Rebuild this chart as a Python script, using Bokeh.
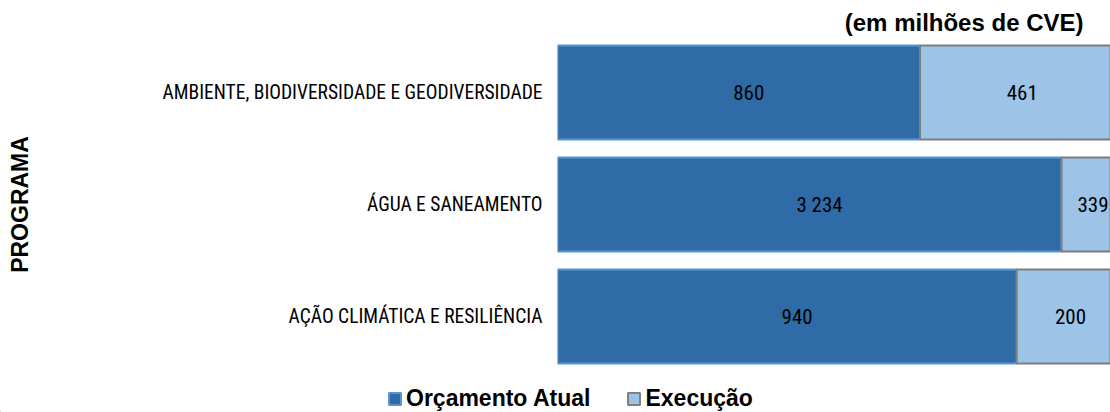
from bokeh.plotting import figure
from bokeh.models import ColumnDataSource, FactorRange, Range1d, Legend, LegendItem
from bokeh.layouts import column
from bokeh.core.properties import value
from bokeh.embed import file_html
from bokeh.resources import INLINE

# Data (top to bottom in the chart)
programas = ["AMBIENTE, BIODIVERSIDADE E GEODIVERSIDADE", "ÁGUA E SANEAMENTO", "AÇÃO CLIMÁTICA E RESILIÊNCIA"]
orcamento_atual = [860, 3234, 940]
execucao = [461, 339, 200]

series_names = ["Orçamento Atual", "Execução"]
title_text = "(em milhões de CVE)"
axis_title = "PROGRAMA"

DARK_FILL, DARK_LINE = "#2E6BA7", "#5A95D3"
LIGHT_FILL, LIGHT_LINE = "#9DC3E6", "#7F7F7F"

def fmt(v):
    return f"{v:,}".replace(",", " ")

totals = [a + b for a, b in zip(orcamento_atual, execucao)]
frac_orc = [a / t for a, t in zip(orcamento_atual, totals)]
frac_exe = [b / t for b, t in zip(execucao, totals)]

src = ColumnDataSource(dict(
    prog=programas,
    orc=frac_orc,
    exe=frac_exe,
    orc_mid=[f / 2 for f in frac_orc],
    exe_mid=[f + e / 2 for f, e in zip(frac_orc, frac_exe)],
    orc_lbl=[fmt(v) for v in orcamento_atual],
    exe_lbl=[fmt(v) for v in execucao],
))

LABEL_FONT = "'Liberation Sans Narrow', 'Arial Narrow', 'Roboto Condensed', 'Open Sans'"

p = figure(
    width=1110, height=372,
    y_range=FactorRange(factors=list(reversed(programas)), range_padding=0),
    x_range=Range1d(0, 0.993),
    output_backend="svg", toolbar_location=None,
    min_border_left=557, min_border_right=0, min_border_top=36, min_border_bottom=0,
)
p.frame_align = False
p.outline_line_color = None
p.background_fill_color = "white"

r1 = p.hbar(y="prog", left=0, right="orc", height=0.84, source=src,
            fill_color=DARK_FILL, line_color=DARK_LINE, line_width=2)
r2 = p.hbar(y="prog", left="orc", right=1, height=0.84, source=src,
            fill_color=LIGHT_FILL, line_color=LIGHT_LINE, line_width=2)

p.text(x="orc_mid", y="prog", text="orc_lbl", source=src, text_align="center",
       text_baseline="middle", text_font=value(LABEL_FONT), text_font_size="21px",
       text_color="black", x_offset=10)
p.text(x="exe_mid", y="prog", text="exe_lbl", source=src, text_align="center",
       text_baseline="middle", text_font=value(LABEL_FONT), text_font_size="21px",
       text_color="black", x_offset=5)

p.xaxis.visible = False
p.xgrid.visible = False
p.ygrid.visible = False

ya = p.yaxis[0]
ya.axis_line_color = None
ya.major_tick_line_color = None
ya.minor_tick_line_color = None
ya.major_tick_out = 0
ya.major_tick_in = 0
ya.major_label_standoff = 15
ya.major_label_text_font = LABEL_FONT
ya.major_label_text_font_size = "19.5px"
ya.major_label_text_color = "black"
ya.axis_label = axis_title
ya.axis_label_text_font = "Liberation Sans"
ya.axis_label_text_font_style = "bold"
ya.axis_label_text_font_size = "23px"
ya.axis_label_text_color = "black"
ya.axis_label_standoff = 127

p.title.text = title_text
p.title.align = "right"
p.title.text_font = "Liberation Sans"
p.title.text_font_style = "bold"
p.title.text_font_size = "24px"
p.title.text_color = "black"
p.title.offset = 27
p.title.standoff = 2

# Legend strip below the chart (its swatch renderers sit outside the visible range)
q = figure(
    width=1110, height=40,
    x_range=Range1d(0, 1), y_range=Range1d(0, 1),
    output_backend="svg", toolbar_location=None,
    min_border_left=0, min_border_right=0, min_border_top=0, min_border_bottom=0,
)
q.frame_align = False
q.axis.visible = False
q.grid.visible = False
q.outline_line_color = None
swatch = ColumnDataSource(dict(y=[-10], l=[-10], r=[-9]))
lr1 = q.hbar(y="y", left="l", right="r", height=0.5, source=swatch,
             fill_color=DARK_FILL, line_color=DARK_LINE, line_width=2)
lr2 = q.hbar(y="y", left="l", right="r", height=0.5, source=swatch,
             fill_color=LIGHT_FILL, line_color=LIGHT_LINE, line_width=2)

legend = Legend(items=[LegendItem(label=series_names[0], renderers=[lr1]),
                       LegendItem(label=series_names[1], renderers=[lr2])],
                orientation="horizontal", location=(387, 0))
legend.border_line_color = None
legend.background_fill_alpha = 0
legend.padding = 0
legend.margin = 0
legend.spacing = 36
legend.glyph_width = 15
legend.glyph_height = 15
legend.label_standoff = 4
legend.label_text_font = "Liberation Sans"
legend.label_text_font_style = "bold"
legend.label_text_font_size = "23px"
legend.label_text_color = "black"
q.add_layout(legend, "center")

layout = column(p, q, spacing=0)
open("out.html", "w").write(file_html(layout, INLINE))
